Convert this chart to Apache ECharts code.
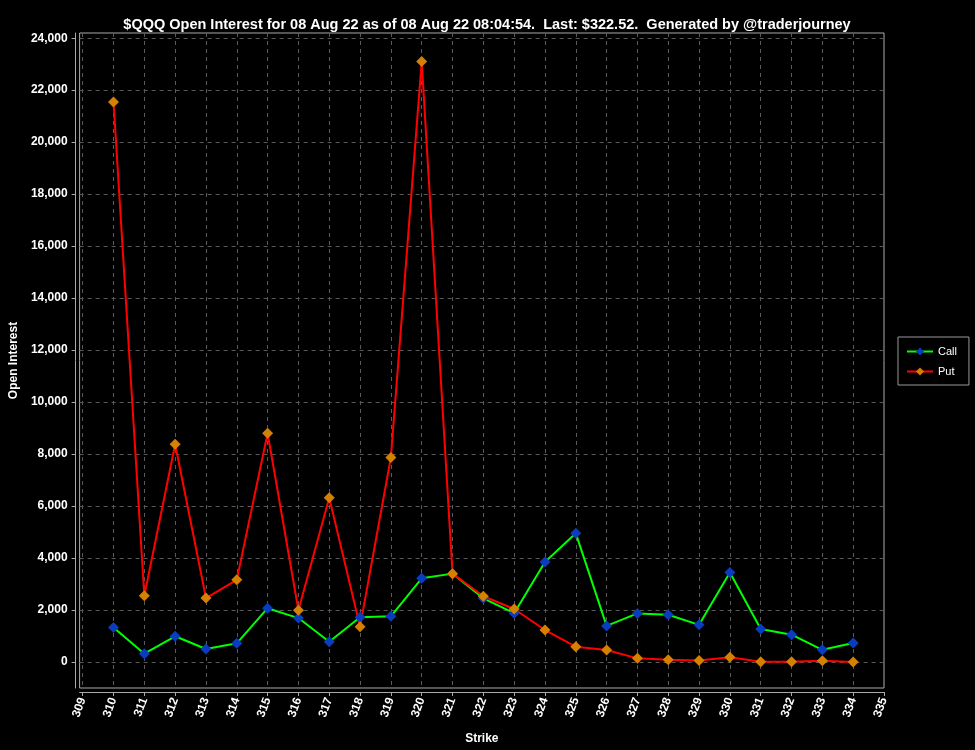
<!DOCTYPE html>
<html>
<head>
<meta charset="utf-8">
<script src="https://cdn.jsdelivr.net/npm/echarts@6/dist/echarts.min.js"></script>
<style>
html,body{margin:0;padding:0;background:#000;}
#chart{width:975px;height:750px;}
</style>
</head>
<body>
<div id="chart"></div>
<script>
const strikes = [310,311,312,313,314,315,316,317,318,319,320,321,322,323,324,325,326,327,328,329,330,331,332,333,334];
const callOI = [1330,320,990,500,720,2070,1690,780,1720,1760,3220,3400,2450,1880,3850,4950,1390,1870,1820,1430,3440,1270,1050,470,730];
const putOI = [21550,2550,8380,2460,3160,8800,1990,6320,1360,7870,23100,3400,2530,2040,1230,590,460,140,90,60,180,10,10,50,0];
const yTicks = [0,2000,4000,6000,8000,10000,12000,14000,16000,18000,20000,22000,24000];
const xTicks = [309,310,311,312,313,314,315,316,317,318,319,320,321,322,323,324,325,326,327,328,329,330,331,332,333,334,335];

const chart = echarts.init(document.getElementById('chart'), null, {renderer:'canvas'});
const lbl = {color:'#fff', fontFamily:'Liberation Sans, Arial, sans-serif', fontWeight:'bold', fontSize:12};
chart.setOption({
  backgroundColor:'#000',
  animation:false,
  title:{
    text:'$QQQ Open Interest for 08 Aug 22 as of 08 Aug 22 08:04:54.  Last: $322.52.  Generated by @traderjourney',
    left:482, textAlign:'center', top:12,
    textStyle:{color:'#fff', fontFamily:'Liberation Sans, Arial, sans-serif', fontWeight:'bold', fontSize:14.5}
  },
  legend:{
    orient:'vertical', left:898, top:337,
    borderColor:'#999', borderWidth:1, padding:[9,12,8,8],
    itemWidth:26, itemHeight:10, itemGap:9,
    textStyle:{color:'#fff', fontFamily:'Liberation Sans, Arial, sans-serif', fontSize:11},
    data:['Call','Put']
  },
  grid:{left:76, right:91, top:33, bottom:61, show:true, borderColor:'#aaa', borderWidth:1, backgroundColor:'#000'},
  xAxis:{
    type:'value', min:308.9, max:335.0, offset:4,
    name:'Strike', nameLocation:'middle', nameGap:41,
    nameTextStyle:lbl,
    axisLine:{show:true, onZero:false, lineStyle:{color:'#aaa'}},
    axisTick:{show:true, length:4, lineStyle:{color:'#aaa'}, customValues:xTicks},
    axisLabel:Object.assign({rotate:70, margin:6, customValues:xTicks, formatter:v=>String(Math.round(v))}, lbl),
    splitLine:{show:true, lineStyle:{color:'#5a5a5a', type:[4,4], width:1}}
  },
  yAxis:{
    type:'value', min:-1000, max:24200, offset:4,
    name:'Open Interest', nameLocation:'middle', nameGap:52, nameRotate:90,
    nameTextStyle:lbl,
    axisLine:{show:true, onZero:false, lineStyle:{color:'#aaa'}},
    axisTick:{show:true, length:4, lineStyle:{color:'#aaa'}, customValues:yTicks},
    axisLabel:Object.assign({margin:8, customValues:yTicks, formatter:v=>v.toLocaleString('en-US')}, lbl),
    splitLine:{show:true, lineStyle:{color:'#5a5a5a', type:[4,4], width:1}}
  },
  series:[
    {
      name:'Call', type:'line', data:strikes.map((s,i)=>[s,callOI[i]]),
      symbol:'diamond', symbolSize:11, showAllSymbol:true,
      lineStyle:{color:'#00ff00', width:2},
      itemStyle:{color:'#0a3cc0'}
    },
    {
      name:'Put', type:'line', data:strikes.map((s,i)=>[s,putOI[i]]),
      symbol:'diamond', symbolSize:11, showAllSymbol:true,
      lineStyle:{color:'#ff0000', width:2},
      itemStyle:{color:'#d58000'}
    }
  ]
});
</script>
</body>
</html>
